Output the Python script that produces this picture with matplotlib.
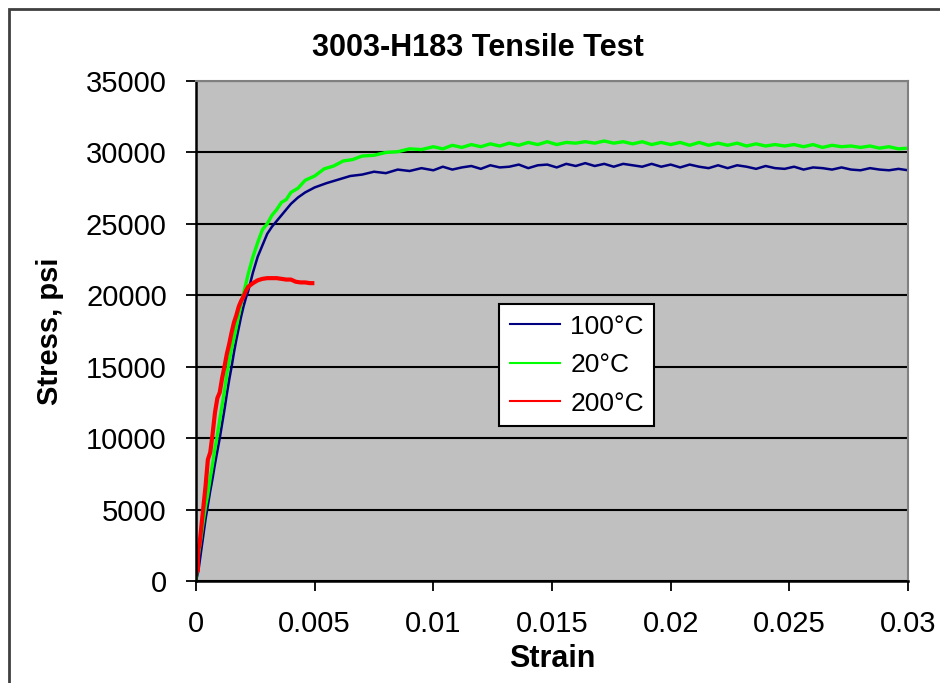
import matplotlib
matplotlib.use('Agg')
import matplotlib.pyplot as plt
from matplotlib.patches import Rectangle

plt.rcParams['font.family'] = ['Liberation Sans', 'DejaVu Sans']

# 100 C curve
strain_100 = [0, 0.0001, 0.0002, 0.0003, 0.0004, 0.0005, 0.0006, 0.0007, 0.0008, 0.0009,
              0.001, 0.0011, 0.0012, 0.0013, 0.0014, 0.0015, 0.0016, 0.0017, 0.0018, 0.0019,
              0.002, 0.0021, 0.0022, 0.0024, 0.0026, 0.0028, 0.003, 0.0032, 0.0034, 0.0036,
              0.0038, 0.004, 0.0043, 0.0046, 0.005, 0.0055, 0.006, 0.0065, 0.007, 0.0075,
              0.008, 0.0085, 0.009, 0.0095, 0.01, 0.0104, 0.0108, 0.0112, 0.0116, 0.012,
              0.0124, 0.0128, 0.0132, 0.0136, 0.014, 0.0144, 0.0148, 0.0152, 0.0156, 0.016,
              0.0164, 0.0168, 0.0172, 0.0176, 0.018, 0.0184, 0.0188, 0.0192, 0.0196, 0.02,
              0.0204, 0.0208, 0.0212, 0.0216, 0.022, 0.0224, 0.0228, 0.0232, 0.0236, 0.024,
              0.0244, 0.0248, 0.0252, 0.0256, 0.026, 0.0264, 0.0268, 0.0272, 0.0276, 0.028,
              0.0284, 0.0288, 0.0292, 0.0296, 0.03]
stress_100 = [0, 700, 1900, 3100, 4300, 5300, 6300, 7200, 8200, 9100,
              10000, 11000, 12000, 13100, 14100, 15000, 16000, 16900, 17700, 18500,
              19200, 19800, 20300, 21600, 22700, 23500, 24300, 24800, 25200, 25600,
              26000, 26400, 26850, 27200, 27550, 27850, 28100, 28350, 28450, 28650,
              28550, 28800, 28700, 28900, 28750, 29000, 28800, 28950, 29050, 28850,
              29100, 28950, 29000, 29150, 28900, 29100, 29150, 28950, 29200, 29050,
              29250, 29050, 29200, 29000, 29200, 29100, 29000, 29200, 29000, 29150,
              28950, 29150, 29000, 28900, 29100, 28900, 29100, 29000, 28850, 29050,
              28900, 28850, 29000, 28800, 28950, 28900, 28800, 28950, 28800, 28750,
              28900, 28800, 28750, 28850, 28750]

# 20 C curve
strain_20 = [0, 0.00005, 0.0001, 0.0002, 0.0003, 0.0004, 0.0005, 0.0006, 0.0007, 0.0008,
             0.0009, 0.001, 0.0011, 0.0012, 0.0013, 0.0014, 0.0015, 0.0016, 0.0017, 0.0018,
             0.0019, 0.002, 0.0022, 0.0024, 0.0026, 0.0028, 0.003, 0.0032, 0.0034, 0.0036,
             0.0038, 0.004, 0.0043, 0.0046, 0.005, 0.0054, 0.0058, 0.0062, 0.0066, 0.007,
             0.0075, 0.008, 0.0085, 0.009, 0.0095, 0.01, 0.0104, 0.0108, 0.0112, 0.0116,
             0.012, 0.0124, 0.0128, 0.0132, 0.0136, 0.014, 0.0144, 0.0148, 0.0152, 0.0156,
             0.016, 0.0164, 0.0168, 0.0172, 0.0176, 0.018, 0.0184, 0.0188, 0.0192, 0.0196,
             0.02, 0.0204, 0.0208, 0.0212, 0.0216, 0.022, 0.0224, 0.0228, 0.0232, 0.0236,
             0.024, 0.0244, 0.0248, 0.0252, 0.0256, 0.026, 0.0264, 0.0268, 0.0272, 0.0276,
             0.028, 0.0284, 0.0288, 0.0292, 0.0296, 0.03]
stress_20 = [0, 900, 1800, 2900, 4100, 5200, 6100, 7200, 8200, 9300,
             10200, 11300, 12300, 13300, 14500, 15400, 16300, 17000, 17800, 18600,
             19400, 20100, 21500, 22700, 23700, 24600, 25000, 25600, 26000, 26500,
             26700, 27200, 27500, 28050, 28350, 28850, 29050, 29400, 29500, 29750,
             29800, 30000, 30050, 30250, 30200, 30400, 30250, 30500, 30350, 30550,
             30400, 30600, 30450, 30650, 30500, 30700, 30550, 30750, 30550, 30700,
             30650, 30750, 30650, 30800, 30650, 30750, 30600, 30750, 30550, 30700,
             30550, 30700, 30500, 30700, 30500, 30650, 30500, 30650, 30450, 30600,
             30450, 30550, 30450, 30550, 30400, 30550, 30350, 30500, 30400, 30450,
             30350, 30450, 30300, 30400, 30250, 30300]

# 200 C curve
strain_200 = [0, 0.00003, 0.00006, 0.0001, 0.00015, 0.0002, 0.0003, 0.0004, 0.0005, 0.0006,
              0.0007, 0.0008, 0.0009, 0.001, 0.0011, 0.0012, 0.0013, 0.0014, 0.0015, 0.0016,
              0.0017, 0.0018, 0.0019, 0.002, 0.0021, 0.0022, 0.0024, 0.0026, 0.0028, 0.003,
              0.0032, 0.0034, 0.0036, 0.0038, 0.004, 0.0042, 0.0044, 0.0046, 0.0048, 0.0049]
stress_200 = [500, 1500, 700, 2200, 2600, 3400, 5000, 6600, 8500, 9000,
              10300, 11800, 12800, 13200, 14200, 15000, 15900, 16600, 17400, 18100,
              18600, 19200, 19600, 19900, 20300, 20600, 20850, 21050, 21150, 21200,
              21200, 21200, 21150, 21100, 21100, 20950, 20900, 20900, 20850, 20850]

y_ticks = [0, 5000, 10000, 15000, 20000, 25000, 30000, 35000]
x_ticks = [0, 0.005, 0.01, 0.015, 0.02, 0.025, 0.03]
x_labels = ['0', '0.005', '0.01', '0.015', '0.02', '0.025', '0.03']

fig = plt.figure(figsize=(9.4, 6.83), dpi=100)
ax = fig.add_axes([196/940, 1 - 581/683, 712/940, 500/683])
ax.set_facecolor('#C0C0C0')

# outer chart border
fig.patches.append(Rectangle((9/940, -0.05), 1.2, 1 - 9/683 + 0.05, transform=fig.transFigure,
                             fill=False, edgecolor='#404040', linewidth=2))

ax.plot(strain_100, stress_100, color='#000080', lw=1.8, label='100°C')
ax.plot(strain_20, stress_20, color='#00FF00', lw=2.4, label='20°C')
ax.plot(strain_200, stress_200, color='#FF0000', lw=3, label='200°C')

ax.set_xlim(0, 0.03)
ax.set_ylim(0, 35000)
ax.set_xticks(x_ticks)
ax.set_xticklabels(x_labels)
ax.set_yticks(y_ticks)
ax.grid(axis='y', color='black', lw=1.5)
ax.set_axisbelow(True)
ax.tick_params(direction='out', length=7, width=1.3, labelsize=21, pad=14, colors='black')
for s in ['top', 'right']:
    ax.spines[s].set_color('#808080')
    ax.spines[s].set_linewidth(1.5)
for s in ['left', 'bottom']:
    ax.spines[s].set_linewidth(1.8)

fig.text(478/940, 1 - 48/683, '3003-H183 Tensile Test', fontsize=22, fontweight='bold',
         ha='center', va='center')
ax.set_xlabel('Strain', fontsize=22, fontweight='bold', labelpad=4)
ax.set_ylabel('Stress, psi', fontsize=21, fontweight='bold', labelpad=16)

leg = ax.legend(loc='upper left', bbox_to_anchor=(0.4256, 0.554), fontsize=19,
                frameon=True, fancybox=False, edgecolor='black', framealpha=1,
                handlelength=1.9, labelspacing=0.55, borderpad=0.4, handletextpad=0.4,
                borderaxespad=0)
leg.get_frame().set_linewidth(1.5)
for line in leg.get_lines():
    line.set_linewidth(1.5)

fig.savefig('out.png', dpi=100)
